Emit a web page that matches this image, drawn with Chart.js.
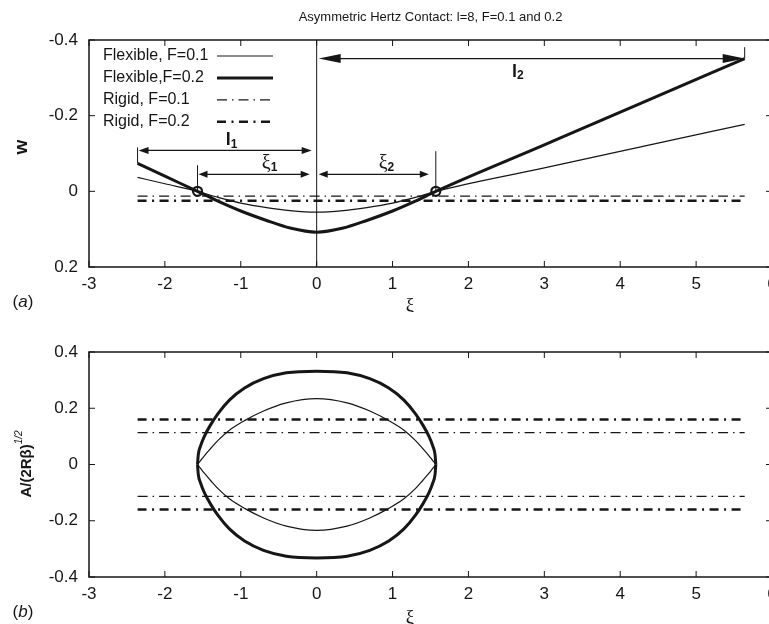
<!DOCTYPE html>
<html>
<head>
<meta charset="utf-8">
<script src="https://cdn.jsdelivr.net/npm/chart.js@4"></script>
<style>
  html, body { margin: 0; padding: 0; background: #fff; overflow: hidden; width: 769px; height: 624px; }
  .panel { position: absolute; left: 0; width: 800px; height: 312px; }
  #panelTop { top: 0; }
  #panelBottom { top: 312px; }
</style>
</head>
<body>
<div class="panel" id="panelTop"><canvas id="chartW" width="800" height="312"></canvas></div>
<div class="panel" id="panelBottom"><canvas id="chartA" width="800" height="312"></canvas></div>
<script>
// ticks
const xiTicks = [-3, -2, -1, 0, 1, 2, 3, 4, 5, 6];
const wTicks = [-0.4, -0.2, 0, 0.2];
const aTicks = [-0.4, -0.2, 0, 0.2, 0.4];

// (a) deflection w along the beam
const xiW = [-2.36, -2.0, -1.57, -1.3, -1.0, -0.66, -0.35, 0, 0.35, 0.66, 1.0, 1.3, 1.57, 3.0, 4.3, 5.64];
const wFlex01 = [-0.037, -0.020, 0, 0.016, 0.031, 0.043, 0.051, 0.055, 0.051, 0.043, 0.031, 0.016, 0, -0.062, -0.119, -0.177];
const wFlex02 = [-0.074, -0.040, 0, 0.026, 0.052, 0.077, 0.097, 0.108, 0.097, 0.077, 0.052, 0.026, 0, -0.123, -0.235, -0.351];
const xiRigid = [-2.36, 5.64];
const wRigid01 = [0.0125, 0.0125];
const wRigid02 = [0.025, 0.025];
const xiContact = [-1.57, 1.57];
const wContact = [0, 0];

// (b) A/(2R beta)^1/2 inside the contact
const xiLens = [-1.57, -1.56, -1.53, -1.48, -1.40, -1.30, -1.15, -0.95, -0.70, -0.40, 0, 0.40, 0.70, 0.95, 1.15, 1.30, 1.40, 1.48, 1.53, 1.56, 1.57];
const aFlex01Up = [0, 0.004, 0.014, 0.031, 0.056, 0.086, 0.122, 0.156, 0.190, 0.219, 0.234, 0.219, 0.190, 0.156, 0.122, 0.086, 0.056, 0.031, 0.014, 0.004, 0];
const aFlex01Down = [0, -0.004, -0.014, -0.031, -0.056, -0.086, -0.122, -0.156, -0.190, -0.219, -0.234, -0.219, -0.190, -0.156, -0.122, -0.086, -0.056, -0.031, -0.014, -0.004, 0];
const aFlex02Up = [0, 0.035, 0.066, 0.100, 0.140, 0.181, 0.229, 0.272, 0.305, 0.326, 0.332, 0.326, 0.305, 0.272, 0.229, 0.181, 0.140, 0.100, 0.066, 0.035, 0];
const aFlex02Down = [0, -0.035, -0.066, -0.100, -0.140, -0.181, -0.229, -0.272, -0.305, -0.326, -0.332, -0.326, -0.305, -0.272, -0.229, -0.181, -0.140, -0.100, -0.066, -0.035, 0];
const aRigid01Up = [0.113, 0.113];
const aRigid01Down = [-0.113, -0.113];
const aRigid02Up = [0.16, 0.16];
const aRigid02Down = [-0.16, -0.16];

const ink = '#161616';
const sans = '"Liberation Sans", Arial, sans-serif';
const serif = '"Liberation Serif", "Times New Roman", serif';
const thinDash = [10, 5, 1.5, 5];
const thickDash = [9, 5.5, 2, 5.5];

Chart.defaults.font.family = sans;
Chart.defaults.color = ink;

const pts = (xs, ys) => xs.map((x, i) => ({ x: x, y: ys[i] }));

// draws pieces of text with their own fonts one after another
function textRuns(ctx, x, y, parts) {
  let w = 0;
  parts.forEach(p => { ctx.font = p[1]; w += ctx.measureText(p[0]).width; });
  let cx = x - w / 2;
  ctx.textAlign = 'left';
  parts.forEach(p => {
    ctx.font = p[1];
    ctx.fillText(p[0], cx, y + (p[2] || 0));
    cx += ctx.measureText(p[0]).width;
  });
}

function arrow(ctx, x1, x2, y, len, half) {
  ctx.beginPath();
  ctx.moveTo(x1 + len * 0.8, y);
  ctx.lineTo(x2 - len * 0.8, y);
  ctx.stroke();
  [[x1, 1], [x2, -1]].forEach(([x, d]) => {
    ctx.beginPath();
    ctx.moveTo(x, y);
    ctx.lineTo(x + d * len, y - half);
    ctx.lineTo(x + d * len, y + half);
    ctx.closePath();
    ctx.fill();
  });
}

function vbar(ctx, x, y1, y2) {
  ctx.beginPath();
  ctx.moveTo(x, y1);
  ctx.lineTo(x, y2);
  ctx.stroke();
}

// box round the axes with inward ticks, MATLAB style
const axesBox = {
  id: 'axesBox',
  afterDraw(chart) {
    const { ctx, chartArea: a, scales } = chart;
    ctx.save();
    ctx.strokeStyle = ink;
    ctx.lineWidth = 1.5;
    ctx.strokeRect(a.left, a.top, a.right - a.left, a.bottom - a.top);
    ctx.beginPath();
    scales.x.ticks.forEach(t => {
      const X = scales.x.getPixelForValue(t.value);
      ctx.moveTo(X, a.bottom); ctx.lineTo(X, a.bottom - 6);
      ctx.moveTo(X, a.top); ctx.lineTo(X, a.top + 6);
    });
    scales.y.ticks.forEach(t => {
      const Y = scales.y.getPixelForValue(t.value);
      ctx.moveTo(a.left, Y); ctx.lineTo(a.left + 6, Y);
      ctx.moveTo(a.right, Y); ctx.lineTo(a.right - 6, Y);
    });
    ctx.lineWidth = 1;
    ctx.stroke();
    ctx.restore();
  }
};

const panelA = {
  id: 'panelA',
  beforeDatasetsDraw(chart) {
    const { ctx, chartArea: a, scales } = chart;
    const X0 = scales.x.getPixelForValue(0);
    ctx.save();
    ctx.strokeStyle = ink;
    ctx.lineWidth = 1;
    vbar(ctx, X0, a.top, a.bottom);
    ctx.restore();
  },
  afterDraw(chart) {
    const { ctx, chartArea: a, scales } = chart;
    const X = v => scales.x.getPixelForValue(v);
    const Y = v => scales.y.getPixelForValue(v);
    ctx.save();
    ctx.fillStyle = ink;
    ctx.strokeStyle = ink;
    ctx.textBaseline = 'middle';

    // title
    ctx.font = '13px ' + sans;
    ctx.textAlign = 'center';
    ctx.fillText('Asymmetric Hertz Contact: l=8, F=0.1 and 0.2', (a.left + a.right) / 2, 17);

    // legend (lines to the right of the text)
    chart.data.datasets.filter(d => d.label).forEach((d, i) => {
      const y = 56 + i * 21.9;
      ctx.font = '16px ' + sans;
      ctx.textAlign = 'left';
      ctx.fillText(d.label, 103, y);
      ctx.save();
      ctx.lineWidth = d.borderWidth;
      ctx.setLineDash(d.borderDash || []);
      ctx.beginPath();
      ctx.moveTo(217, y);
      ctx.lineTo(273, y);
      ctx.stroke();
      ctx.restore();
    });

    // dimension marks
    const beamL = xiRigid[0], beamR = xiRigid[1];
    const cL = xiContact[0], cR = xiContact[1];
    ctx.lineWidth = 1;
    vbar(ctx, X(beamL), Y(-0.116), Y(-0.074));
    vbar(ctx, X(cL), Y(-0.069), Y(0));
    vbar(ctx, X(cR), Y(-0.106), Y(0));
    vbar(ctx, X(beamR), Y(-0.381), Y(-0.351));
    ctx.lineWidth = 1.3;
    arrow(ctx, X(beamL) + 1, X(0) - 5, Y(-0.108), 10, 3.5);
    arrow(ctx, X(cL) + 1, X(0) - 7, Y(-0.045), 9, 3.5);
    arrow(ctx, X(0) + 2, X(cR) - 7, Y(-0.045), 9, 3.5);
    arrow(ctx, X(0) + 2, X(beamR), Y(-0.351), 22, 4.5);

    textRuns(ctx, X(-1.12), Y(-0.135), [['l', 'bold 18px ' + sans], ['1', 'bold 12px ' + sans, 4]]);
    textRuns(ctx, X(-0.62), Y(-0.074), [['\u03BE', '20px ' + serif], ['1', 'bold 12px ' + sans, 4]]);
    textRuns(ctx, X(0.92), Y(-0.074), [['\u03BE', '20px ' + serif], ['2', 'bold 12px ' + sans, 4]]);
    textRuns(ctx, X(2.65), Y(-0.315), [['l', 'bold 18px ' + sans], ['2', 'bold 12px ' + sans, 4]]);

    // axis labels
    ctx.font = '19px ' + serif;
    ctx.textAlign = 'center';
    ctx.fillText('\u03BE', 410, 306);
    textRuns(ctx, 23, 302, [['(', '17px ' + sans], ['a', 'italic 17px ' + sans], [')', '17px ' + sans]]);
    ctx.translate(22, 147);
    ctx.rotate(-Math.PI / 2);
    ctx.font = 'bold 19px ' + sans;
    ctx.textAlign = 'center';
    ctx.fillText('w', 0, 0);
    ctx.restore();
  }
};

const panelB = {
  id: 'panelB',
  afterDraw(chart) {
    const { ctx } = chart;
    ctx.save();
    ctx.fillStyle = ink;
    ctx.textBaseline = 'middle';
    ctx.font = '19px ' + serif;
    ctx.textAlign = 'center';
    ctx.fillText('\u03BE', 410, 306);
    textRuns(ctx, 23, 300, [['(', '17px ' + sans], ['b', 'italic 17px ' + sans], [')', '17px ' + sans]]);
    ctx.translate(27, 152);
    ctx.rotate(-Math.PI / 2);
    textRuns(ctx, 0, 0, [['A/(2R\u03B2)', 'bold 15px ' + sans], ['1/2', 'italic 10px ' + sans, -8]]);
    ctx.restore();
  }
};

function xScale(height) {
  return {
    type: 'linear', min: -3, max: 6,
    grid: { display: false, drawTicks: false },
    border: { display: false },
    afterBuildTicks: s => { s.ticks = xiTicks.map(v => ({ value: v })); },
    afterFit: s => { s.height = height; },
    ticks: { padding: 7, autoSkip: false, maxRotation: 0, font: { size: 17 }, callback: v => String(v) }
  };
}

function yScale(ticks, reverse) {
  return {
    type: 'linear', min: ticks[0], max: ticks[ticks.length - 1], reverse: reverse,
    grid: { display: false, drawTicks: false },
    border: { display: false },
    afterBuildTicks: s => { s.ticks = ticks.map(v => ({ value: v })); },
    afterFit: s => { s.width = 89; },
    ticks: { padding: 11, autoSkip: false, font: { size: 17 }, callback: v => String(v) }
  };
}

const baseOptions = (scales) => ({
  responsive: false,
  animation: false,
  events: [],
  layout: { padding: { top: 40, right: 28, left: 0, bottom: 0 } },
  plugins: { legend: { display: false }, tooltip: { enabled: false }, title: { display: false } },
  scales: scales
});

const line = (label, data, width, dash, extra) => Object.assign({
  label: label, data: data, showLine: true, borderColor: ink, borderWidth: width,
  borderDash: dash, pointRadius: 0, fill: false
}, extra || {});

const smooth = { cubicInterpolationMode: 'monotone' };

new Chart(document.getElementById('chartW'), {
  type: 'scatter',
  data: {
    datasets: [
      line('Flexible, F=0.1', pts(xiW, wFlex01), 1.2, [], smooth),
      line('Flexible,F=0.2', pts(xiW, wFlex02), 3, [], smooth),
      line('Rigid, F=0.1', pts(xiRigid, wRigid01), 1.2, thinDash),
      line('Rigid, F=0.2', pts(xiRigid, wRigid02), 2.6, thickDash),
      { label: '', data: pts(xiContact, wContact), showLine: false, pointRadius: 4.5,
        pointBorderWidth: 2.2, pointBorderColor: ink, pointBackgroundColor: 'rgba(0,0,0,0)', order: -1 }
    ]
  },
  options: baseOptions({ x: xScale(45), y: yScale(wTicks, true) }),
  plugins: [axesBox, panelA]
});

new Chart(document.getElementById('chartA'), {
  type: 'scatter',
  data: {
    datasets: [
      line('', pts(xiLens, aFlex01Up), 1.2, [], smooth),
      line('', pts(xiLens, aFlex01Down), 1.2, [], smooth),
      line('', pts(xiLens, aFlex02Up), 3, [], smooth),
      line('', pts(xiLens, aFlex02Down), 3, [], smooth),
      line('', pts(xiRigid, aRigid01Up), 1.2, thinDash),
      line('', pts(xiRigid, aRigid01Down), 1.2, thinDash),
      line('', pts(xiRigid, aRigid02Up), 2.6, thickDash),
      line('', pts(xiRigid, aRigid02Down), 2.6, thickDash)
    ]
  },
  options: baseOptions({ x: xScale(47), y: yScale(aTicks, false) }),
  plugins: [axesBox, panelB]
});
</script>
</body>
</html>
